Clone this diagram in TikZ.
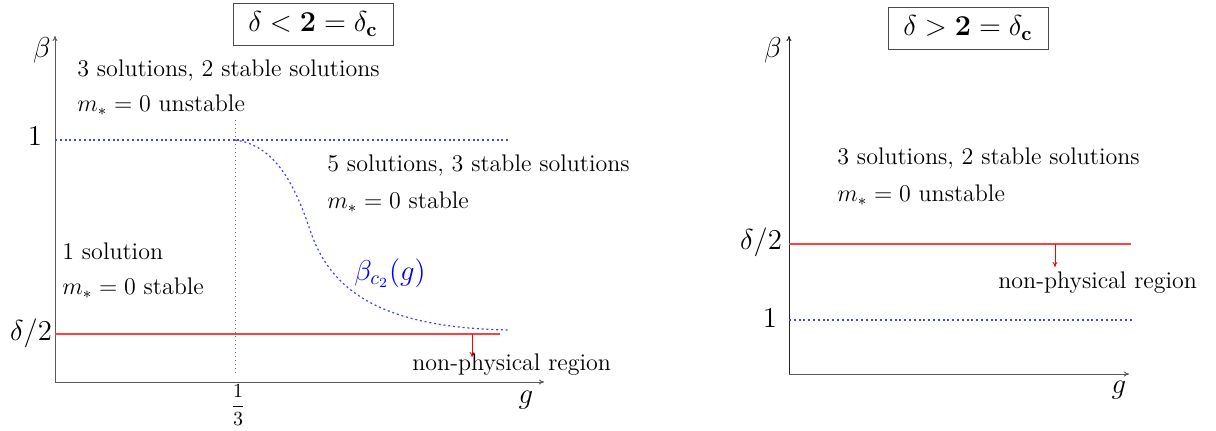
\documentclass[tikz,border=0pt]{standalone}
\usetikzlibrary{arrows.meta}
\begin{document}
\begin{tikzpicture}[x=0.5pt,y=-0.5pt,
  axis/.style={draw=black!65,line width=0.5pt,-{To[length=2.5pt,width=2.5pt]}},
  bluedot/.style={draw=blue!75,color=blue!75,line width=0.6pt,dash pattern=on 1pt off 1.4pt},
  redline/.style={draw=red!75,color=red!75,line width=0.6pt},
  redarrow/.style={draw=red,line width=0.4pt,-{To[length=2.5pt,width=2.5pt]}},
  greydot/.style={draw=black!60,line width=0.4pt,dash pattern=on 0.5pt off 1.5pt},
  lbl/.style={anchor=west,inner sep=0pt,font=\large},
  big/.style={font=\Large,inner sep=0pt},
  titlebox/.style={draw=black!70,line width=0.5pt,font=\Large,inner sep=3pt,minimum width=80pt,minimum height=21pt}]
\useasboundingbox (0,0) rectangle (1216,430);
% ---------------- left panel ----------------
\coordinate (LO) at (55,382);
\coordinate (LY) at (55,36);
\coordinate (LX) at (544,382);
\draw[axis] (LO) -- (LY);
\draw[axis] (LO) -- (LX);
\node[titlebox] (Lt) at (313,24) {$\delta < \mathbf{2} = \delta_{\mathbf{c}}$};
\node[big] (Lb) at (42,50) {$\beta$};
\node[big] (Lg) at (526,400) {$g$};
\node[big] (Lone) at (35,136) {$1$};
\node[big] (Ld) at (31,333) {$\delta/2$};
\node[inner sep=0pt] (Lthird) at (238,405) {$\displaystyle\frac{1}{3}$};
\coordinate (V1) at (235,120);
\coordinate (V2) at (235,376);
\draw[greydot] (V1) -- (V2);
\coordinate (LBa) at (55,140);
\coordinate (LBb) at (510,140);
\draw[bluedot] (LBa) -- (LBb);
\coordinate (C0) at (235,140);
\coordinate (Cm) at (310,230);
\coordinate (C1) at (510,330);
\draw[bluedot] (C0) .. controls (275,145) and (295,185) .. (Cm) .. controls (330,290) and (380,328) .. (C1);
\node[inner sep=0pt,text=blue,font=\Large] (Lbc) at (390,273) {$\beta_{c_2}(g)$};
\coordinate (LRa) at (55,334);
\coordinate (LRb) at (500,334);
\draw[redline] (LRa) -- (LRb);
\coordinate (LAa) at (472,334);
\coordinate (LAb) at (472,357);
\draw[redarrow] (LAa) -- (LAb);
\node[lbl] (Lnp) at (412,365) {non-physical region};
\node[lbl] (L3s) at (77,70) {3 solutions, 2 stable solutions};
\node[lbl] (L3m) at (77,105) {$m_* = 0$ unstable};
\node[lbl] (L5s) at (327,165) {5 solutions, 3 stable solutions};
\node[lbl] (L5m) at (327,202) {$m_* = 0$ stable};
\node[lbl] (L1s) at (62,251) {1 solution};
\node[lbl] (L1m) at (62,288) {$m_* = 0$ stable};
% ---------------- right panel ----------------
\coordinate (RO) at (789,374);
\coordinate (RY) at (789,36);
\coordinate (RX) at (1129,374);
\draw[axis,draw=black!85] (RO) -- (RY);
\draw[axis] (RO) -- (RX);
\node[titlebox] (Rt) at (968,28) {$\delta > \mathbf{2} = \delta_{\mathbf{c}}$};
\node[big] (Rb) at (773,50) {$\beta$};
\node[big] (Rg) at (1119,390) {$g$};
\node[big] (Rone) at (770,318) {$1$};
\node[big] (Rd) at (761,242) {$\delta/2$};
\coordinate (RBa) at (789,320);
\coordinate (RBb) at (1132,320);
\draw[bluedot] (RBa) -- (RBb);
\coordinate (RRa) at (789,244);
\coordinate (RRb) at (1131,244);
\draw[redline] (RRa) -- (RRb);
\coordinate (RAa) at (1055,244);
\coordinate (RAb) at (1055,267);
\draw[redarrow] (RAa) -- (RAb);
\node[lbl] (Rnp) at (998,283) {non-physical region};
\node[lbl] (R3s) at (837,158) {3 solutions, 2 stable solutions};
\node[lbl] (R3m) at (837,195) {$m_* = 0$ unstable};
\end{tikzpicture}
\end{document}
